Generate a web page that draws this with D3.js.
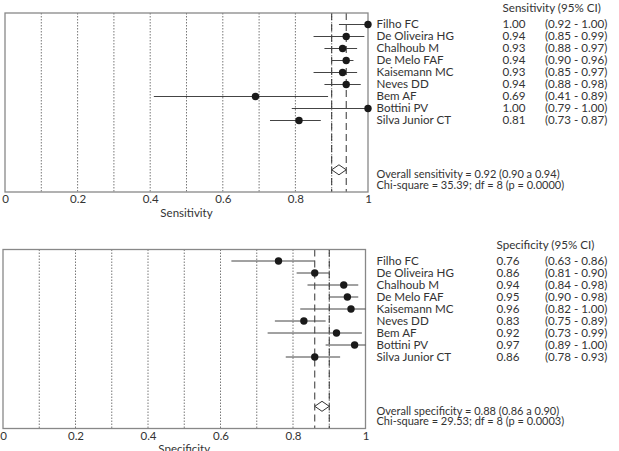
<!DOCTYPE html>
<html>
<head>
<meta charset="utf-8">
<script src="https://cdn.jsdelivr.net/npm/d3@7"></script>
<style>
  body { margin: 0; background: #fff; }
  svg { display: block; font-family: Lato, "Open Sans", sans-serif; }
</style>
</head>
<body>
<div id="chart"></div>
<script>
// studies
var studies = ["Filho FC", "De Oliveira HG", "Chalhoub M", "De Melo FAF", "Kaisemann MC",
  "Neves DD", "Bem AF", "Bottini PV", "Silva Junior CT"];

// sensitivity
var sensEst = [1.00, 0.94, 0.93, 0.94, 0.93, 0.94, 0.69, 1.00, 0.81];
var sensLow = [0.92, 0.85, 0.88, 0.90, 0.85, 0.88, 0.41, 0.79, 0.73];
var sensHigh = [1.00, 0.99, 0.97, 0.96, 0.97, 0.98, 0.89, 1.00, 0.87];
var sensPooled = [0.92, 0.90, 0.94];

// specificity
var specEst = [0.76, 0.86, 0.94, 0.95, 0.96, 0.83, 0.92, 0.97, 0.86];
var specLow = [0.63, 0.81, 0.84, 0.90, 0.82, 0.75, 0.73, 0.89, 0.78];
var specHigh = [0.86, 0.90, 0.98, 0.98, 1.00, 0.89, 0.99, 1.00, 0.93];
var specPooled = [0.88, 0.86, 0.90];

var xTicks = [0, 0.2, 0.4, 0.6, 0.8, 1];

var svgWidth = 619;
var svgHeight = 451;

var svg = d3.select("#chart")
    .append("svg")
    .attr("width", svgWidth)
    .attr("height", svgHeight);

function fmt(v) { return v.toFixed(2); }

// draw one forest panel
function drawPanel(opt) {
    var g = svg.append("g").attr("transform", `translate(0, ${opt.top})`);
    var boxH = 179;

    var x = d3.scaleLinear().domain([0, 1]).range([opt.left, opt.right]);
    var y = d3.scalePoint().domain(studies).range([11.5, 107.5]);
    var diamondY = 156.8;

    // dotted grid lines
    g.selectAll(".grid")
        .data(d3.range(1, 10).map(d => d / 10))
        .enter()
        .append("line")
        .attr("x1", d => x(d)).attr("x2", d => x(d))
        .attr("y1", 0).attr("y2", boxH)
        .attr("stroke", "#555")
        .attr("stroke-width", 0.8)
        .attr("stroke-dasharray", "1.5,1.5");

    // dashed pooled CI lines
    g.selectAll(".pooled")
        .data([opt.pooled[1], opt.pooled[2]])
        .enter()
        .append("line")
        .attr("x1", d => x(d)).attr("x2", d => x(d))
        .attr("y1", 0).attr("y2", boxH)
        .attr("stroke", "#333")
        .attr("stroke-width", 1)
        .attr("stroke-dasharray", "7,4");

    // box
    g.append("rect")
        .attr("x", x(0)).attr("y", 0)
        .attr("width", x(1) - x(0)).attr("height", boxH)
        .attr("fill", "none")
        .attr("stroke", "#888")
        .attr("stroke-width", 1.3);

    // CI lines
    g.selectAll(".ci")
        .data(studies)
        .enter()
        .append("line")
        .attr("x1", (d, i) => x(opt.low[i]))
        .attr("x2", (d, i) => x(opt.high[i]))
        .attr("y1", d => y(d)).attr("y2", d => y(d))
        .attr("stroke", "#444")
        .attr("stroke-width", 1);

    // point estimates
    g.selectAll(".pt")
        .data(studies)
        .enter()
        .append("circle")
        .attr("cx", (d, i) => x(opt.est[i]))
        .attr("cy", d => y(d))
        .attr("r", 3.7)
        .attr("fill", "#1a1a1a");

    // pooled diamond
    var p = opt.pooled;
    g.append("path")
        .attr("d", `M${x(p[1])},${diamondY} L${x(p[0])},${diamondY - 5} L${x(p[2])},${diamondY} L${x(p[0])},${diamondY + 5} Z`)
        .attr("fill", "#fff")
        .attr("stroke", "#333")
        .attr("stroke-width", 1);

    // x axis
    var axis = d3.axisBottom(x)
        .tickValues(xTicks)
        .tickSize(0)
        .tickPadding(2)
        .tickFormat(d => (d === 0 || d === 1) ? d : d.toFixed(1));
    var ax = g.append("g")
        .attr("transform", `translate(0, ${boxH + 1})`)
        .call(axis);
    ax.select(".domain").remove();
    ax.selectAll("text")
        .attr("font-family", "Lato, sans-serif")
        .attr("font-size", "11.5px")
        .attr("fill", "#333");

    g.append("text")
        .attr("x", (x(0) + x(1)) / 2)
        .attr("y", boxH + 24.5)
        .attr("text-anchor", "middle")
        .attr("font-size", "11.5px")
        .attr("fill", "#333")
        .text(opt.label);

    // text table
    var fs = "11.6px";
    g.append("text")
        .attr("x", opt.valX).attr("y", -1)
        .attr("font-size", fs).attr("fill", "#333")
        .text(opt.label + " (95% CI)");

    var rows = g.selectAll(".row")
        .data(studies)
        .enter()
        .append("g")
        .attr("transform", d => `translate(0, ${y(d) + 3.9})`)
        .attr("font-size", fs)
        .attr("fill", "#333");
    rows.append("text").attr("x", 376.5).text(d => d);
    rows.append("text").attr("x", opt.valX).text((d, i) => fmt(opt.est[i]));
    rows.append("text").attr("x", 545).text((d, i) => `(${fmt(opt.low[i])} - ${fmt(opt.high[i])})`);

    g.append("text")
        .attr("x", 376.5).attr("y", 165)
        .attr("font-size", "11px").attr("fill", "#333")
        .text(`Overall ${opt.label.toLowerCase()} = ${fmt(p[0])} (${fmt(p[1])} a ${fmt(p[2])})`);
    g.append("text")
        .attr("x", 376.5).attr("y", 175.5)
        .attr("font-size", "11px").attr("fill", "#333")
        .text(opt.chi);
}

drawPanel({
    top: 13, left: 5, right: 368, label: "Sensitivity", valX: 502.5,
    est: sensEst, low: sensLow, high: sensHigh, pooled: sensPooled,
    chi: "Chi-square = 35.39; df = 8 (p = 0.0000)"
});

drawPanel({
    top: 249.5, left: 3, right: 365.5, label: "Specificity", valX: 496.5,
    est: specEst, low: specLow, high: specHigh, pooled: specPooled,
    chi: "Chi-square = 29.53; df = 8 (p = 0.0003)"
});
</script>
</body>
</html>
